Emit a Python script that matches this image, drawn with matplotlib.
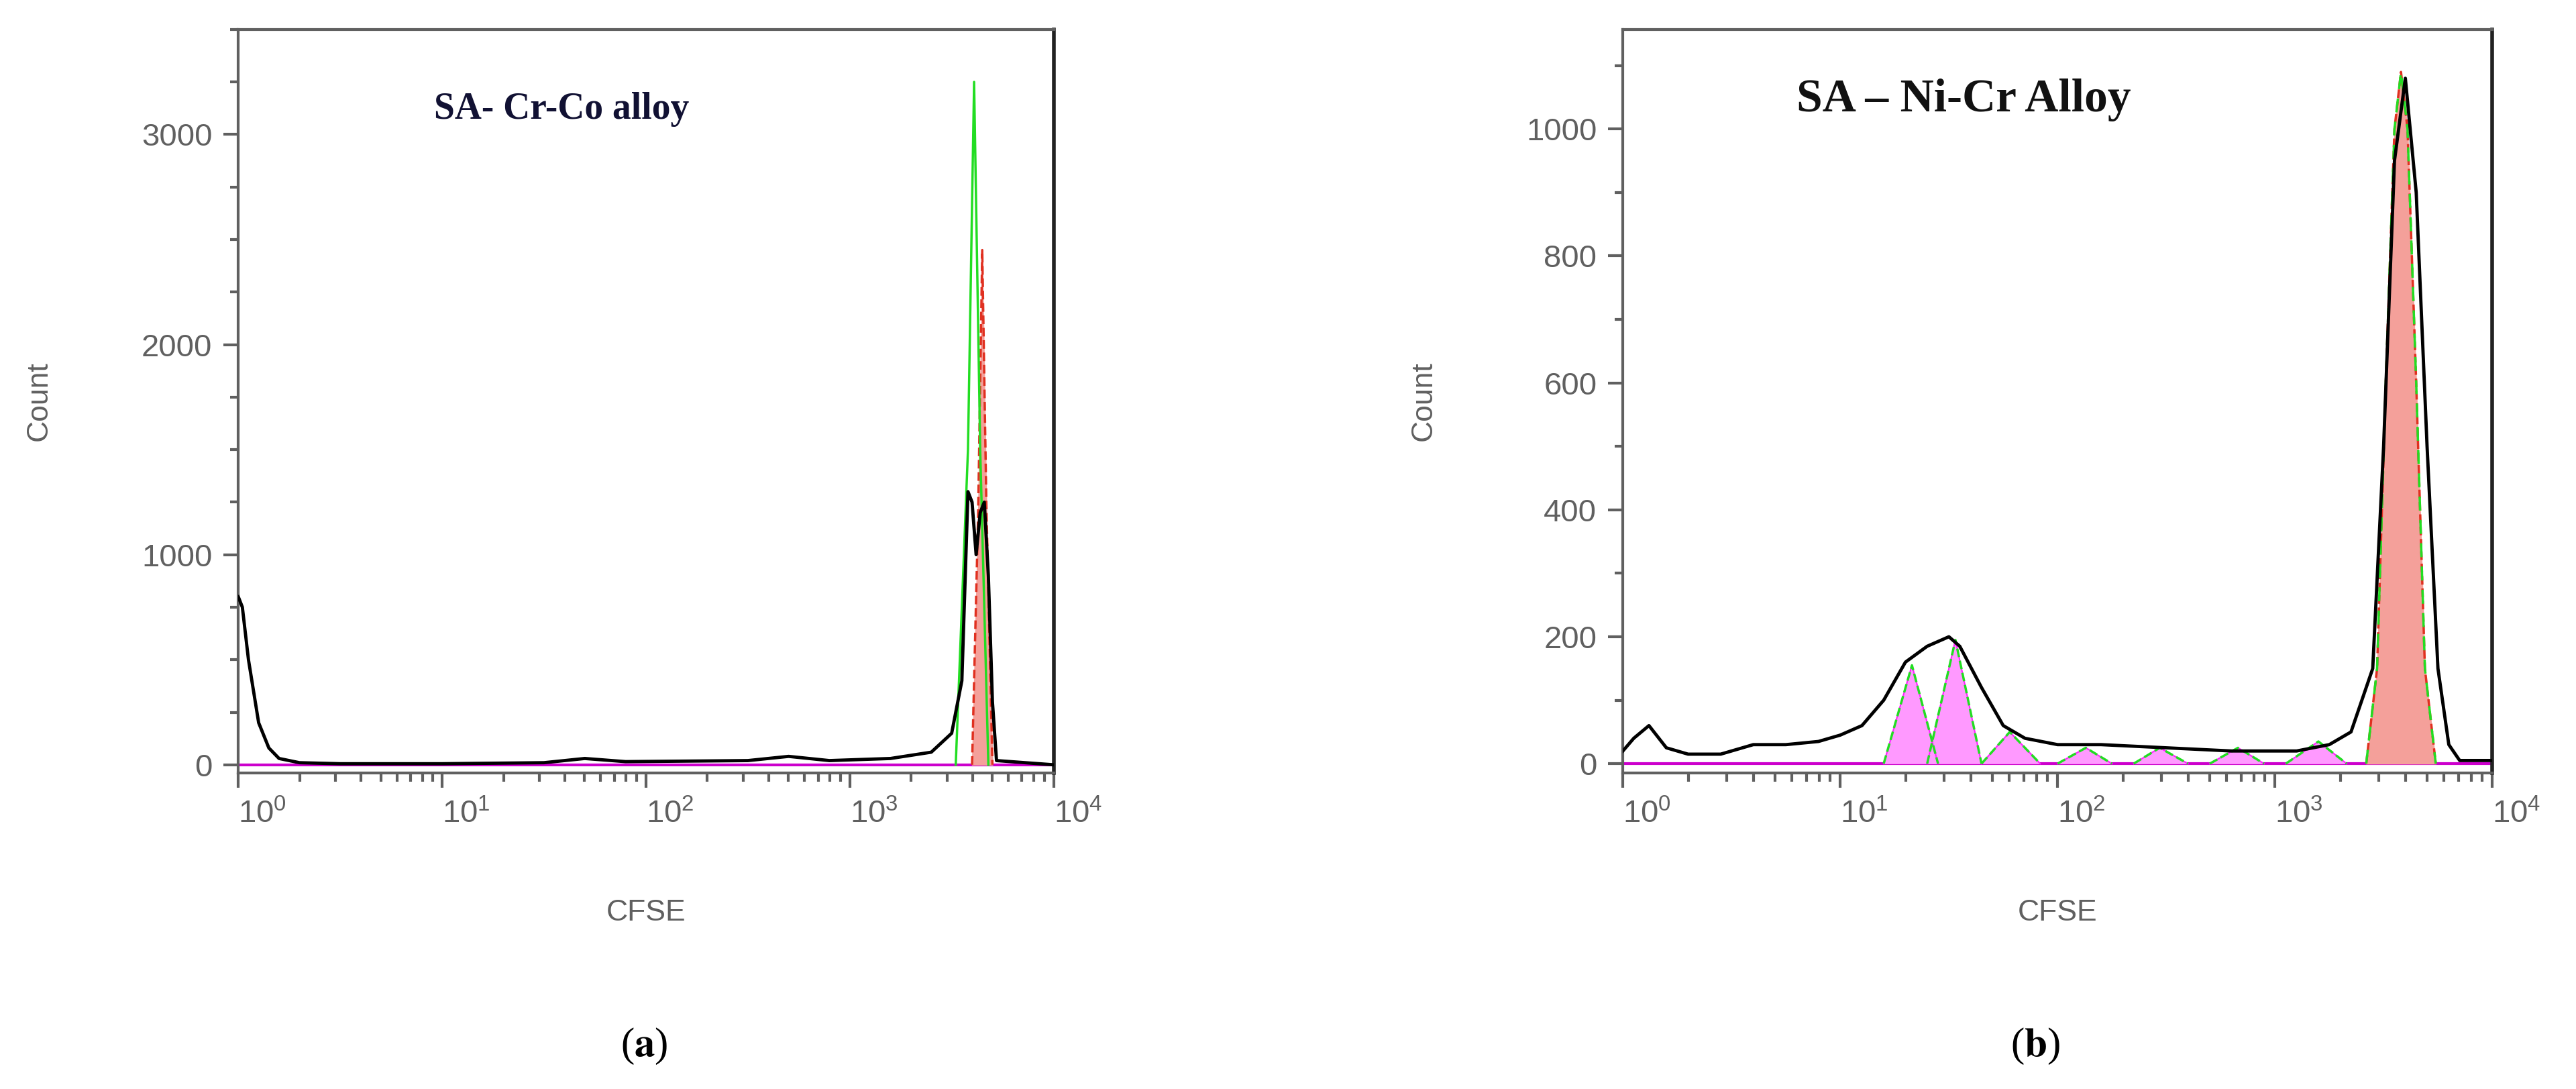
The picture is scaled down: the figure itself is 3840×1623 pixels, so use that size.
import matplotlib
matplotlib.use("Agg")
import matplotlib.pyplot as plt
from matplotlib.ticker import MultipleLocator, LogLocator, NullFormatter

# panel (a): SA- Cr-Co alloy, x as log10(CFSE)
a_black_x = [0.0, 0.02, 0.05, 0.1, 0.15, 0.2, 0.3, 0.5, 1.0, 1.5, 1.7, 1.9, 2.5, 2.7, 2.9, 3.2, 3.4,
             3.5, 3.55, 3.58, 3.6, 3.62, 3.64, 3.66, 3.68, 3.7, 3.72, 4.0]
a_black_y = [800, 750, 500, 200, 80, 30, 10, 5, 5, 10, 30, 15, 20, 40, 20, 30, 60,
             150, 400, 1300, 1250, 1000, 1200, 1250, 900, 300, 20, 0]
a_green_x = [3.52, 3.58, 3.61, 3.64, 3.68]
a_green_y = [0, 1500, 3250, 1500, 0]
a_red_x = [3.60, 3.63, 3.65, 3.67, 3.70]
a_red_y = [0, 1200, 2450, 1250, 0]

# panel (b): SA - Ni-Cr Alloy
b_black_x = [0, 0.05, 0.12, 0.2, 0.3, 0.45, 0.6, 0.75, 0.9, 1.0, 1.1, 1.2, 1.3, 1.4, 1.5, 1.55, 1.65,
             1.75, 1.85, 2.0, 2.2, 2.5, 2.8, 3.1, 3.25, 3.35, 3.45, 3.5, 3.55, 3.6, 3.65, 3.7, 3.75,
             3.8, 3.85, 4.0]
b_black_y = [20, 40, 60, 25, 15, 15, 30, 30, 35, 45, 60, 100, 160, 185, 200, 185, 120,
             60, 40, 30, 30, 25, 20, 20, 30, 50, 150, 500, 950, 1080, 900, 500, 150,
             30, 5, 5]
# daughter generations: start, apex, end (log10 CFSE) and apex count
gen_start = [1.20, 1.40, 1.65, 2.00, 2.35, 2.70, 3.05]
gen_apex = [1.33, 1.53, 1.78, 2.13, 2.47, 2.83, 3.20]
gen_end = [1.45, 1.65, 1.92, 2.25, 2.60, 2.95, 3.33]
gen_count = [155, 195, 50, 25, 25, 25, 35]
b_red_x = [3.42, 3.47, 3.51, 3.55, 3.58, 3.61, 3.65, 3.69, 3.74]
b_red_y = [0, 150, 600, 1000, 1090, 1000, 600, 150, 0]

GREY = "#606060"
plt.rcParams["font.family"] = ["Liberation Sans", "DejaVu Sans"]
plt.rcParams["mathtext.fontset"] = "custom"
plt.rcParams["mathtext.rm"] = "Liberation Sans"


def to_lin(xs):
    return [10 ** v for v in xs]


def style(ax, ymin, ymax, major, minor):
    ax.set_xscale("log")
    ax.set_xlim(1, 1e4)
    ax.set_ylim(ymin, ymax)
    ax.yaxis.set_major_locator(MultipleLocator(major))
    ax.yaxis.set_minor_locator(MultipleLocator(minor))
    ax.xaxis.set_major_locator(LogLocator(10, numticks=10))
    ax.xaxis.set_minor_locator(LogLocator(10, subs=range(2, 10), numticks=50))
    ax.xaxis.set_minor_formatter(NullFormatter())
    ax.tick_params(labelsize=34, colors=GREY, labelcolor=GREY, length=16, width=3, pad=12)
    ax.tick_params(which="minor", length=9, width=3, colors=GREY)
    for lab in ax.get_xticklabels():
        lab.set_horizontalalignment("left")
    for s in ax.spines.values():
        s.set_color(GREY)
        s.set_linewidth(3)
    ax.spines["right"].set_color("#222222")
    ax.spines["right"].set_linewidth(4)
    ax.set_ylabel("Count", fontsize=32, color=GREY, labelpad=95)
    ax.set_xlabel("CFSE", fontsize=32, color=GREY, labelpad=75)
    ax.axhline(0, color="#cc00cc", lw=3, zorder=1)


fig = plt.figure(figsize=(38.4, 16.23), dpi=100)
ax_a = fig.add_axes([0.0925, 0.29, 0.3165, 0.683])
ax_b = fig.add_axes([0.63, 0.29, 0.3375, 0.683])

ax_a.fill_between(to_lin(a_red_x), a_red_y, color="#f4a09a", zorder=2)
ax_a.plot(to_lin(a_red_x), a_red_y, color="#e03020", lw=2.5, ls="--", zorder=3)
ax_a.plot(to_lin(a_green_x), a_green_y, color="#22dd22", lw=2.5, zorder=4)
ax_a.plot(to_lin(a_black_x), a_black_y, color="black", lw=3.5, zorder=5)
style(ax_a, -40, 3500, 1000, 250)
ax_a.text(0.24, 0.88, "SA- Cr-Co alloy", transform=ax_a.transAxes, fontsize=40,
          fontweight="bold", family="Liberation Serif", color="#111133")

for s, p, e, c in zip(gen_start, gen_apex, gen_end, gen_count):
    ax_b.fill(to_lin([s, p, e]), [0, c, 0], color="#ff99ff", zorder=2)
    ax_b.plot(to_lin([s, p, e]), [0, c, 0], color="#ff22ff", lw=1.5, zorder=3)
    ax_b.plot(to_lin([s, p, e]), [0, c, 0], color="#22dd22", lw=2.5, ls="--", zorder=4)
ax_b.fill_between(to_lin(b_red_x), b_red_y, color="#f4a09a", zorder=2)
ax_b.plot(to_lin(b_red_x), b_red_y, color="#e03020", lw=2.5, ls="--", zorder=3)
ax_b.plot(to_lin(b_red_x), b_red_y, color="#22dd22", lw=2.5, ls=(0, (6, 4)), zorder=4)
ax_b.plot(to_lin(b_black_x), b_black_y, color="black", lw=3.5, zorder=5)
style(ax_b, -15, 1157, 200, 100)
ax_b.text(0.2, 0.89, "SA \u2013 Ni-Cr Alloy", transform=ax_b.transAxes, fontsize=50,
          fontweight="bold", family="Liberation Serif", color="#111111")

for x, letter in [(0.25, "a"), (0.79, "b")]:
    fig.text(x, 0.03, "(" + r"$\mathbf{" + letter + "}$" + ")", fontsize=44,
             ha="center", family="Liberation Serif", math_fontfamily="stix")

fig.savefig("out.png", dpi=100)
